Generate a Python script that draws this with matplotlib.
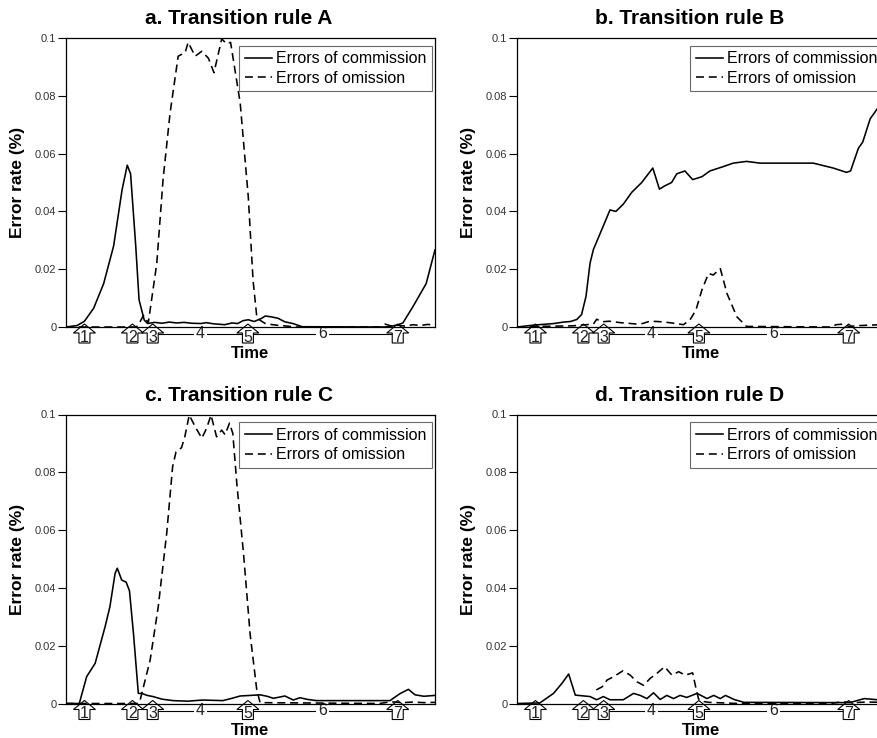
import matplotlib
matplotlib.use("Agg")
from matplotlib import pyplot as plt
from matplotlib.patches import Polygon
from matplotlib.transforms import Affine2D, ScaledTranslation, blended_transform_factory, offset_copy

plt.rcParams['font.family'] = ['Liberation Sans', 'DejaVu Sans']

# ---- data (time in arbitrary units 0..100) ----
titles = ["a. Transition rule A", "b. Transition rule B",
          "c. Transition rule C", "d. Transition rule D"]

a_com_t = [0, 3, 5, 7.5, 10.2, 12.9, 15.2, 16.6, 17.5, 18.9, 19.8, 21.2, 22.1, 24, 26, 28, 30, 32, 34,
           36.6, 38, 40, 42, 43, 45, 46.5, 48, 49.4, 51, 53, 54, 55.7, 57.5, 59.3, 61.5, 64, 86, 88, 90,
           91.3, 94, 97.6, 100]
a_com_y = [0, 0.0005, 0.002, 0.0065, 0.015, 0.028, 0.0475, 0.056, 0.053, 0.028, 0.0094, 0.0024, 0.0012,
           0.0016, 0.0013, 0.0017, 0.0014, 0.0016, 0.0013, 0.0012, 0.0015, 0.0011, 0.0009, 0.0008, 0.0014,
           0.0012, 0.0022, 0.0025, 0.0019, 0.003, 0.0038, 0.0035, 0.003, 0.0018, 0.0012, 0.0001, 0, 0.0002,
           0.0008, 0.0014, 0.007, 0.015, 0.0267]
a_om_t = [0, 19, 19.5, 21, 22.3, 24.6, 26.3, 28.2, 30.4, 32.3, 33.1, 35, 36.8, 38.6, 40.1, 42.2, 43.5, 44.6,
          47.2, 49.4, 50.7, 51.7, 52.5, 54, 56, 58, 60, 62, 85, 86.5, 88, 90, 92, 94, 96, 98, 100]
a_om_y = [0, 0, 0.0005, 0.004, 0.0014, 0.022, 0.051, 0.074, 0.0937, 0.095, 0.0985, 0.0937, 0.0954, 0.093,
          0.088, 0.0997, 0.098, 0.0985, 0.0776, 0.045, 0.016, 0.0036, 0.0024, 0.0012, 0.0008, 0.0005, 0.0003,
          0, 0, 0.001, 0.0004, 0.0006, 0.0003, 0.0008, 0.0005, 0.0009, 0.0006]

b_com_t = [0, 4.9, 8, 10, 12.6, 14.5, 16.2, 17.5, 18.7, 19.8, 20.7, 23.4, 25.2, 26.8, 28.8, 31.1, 33.8,
           36.8, 38.6, 40, 41.9, 43.3, 45.5, 47.6, 50.1, 52.3, 55.9, 58.6, 62.2, 65.9, 80.3, 85.7, 89.3,
           90.4, 92.5, 93.7, 95.7, 97.9, 100]
b_com_y = [0, 0.0007, 0.001, 0.0012, 0.0017, 0.0019, 0.0026, 0.0043, 0.0106, 0.0221, 0.0268, 0.035,
           0.0405, 0.040, 0.0425, 0.0466, 0.050, 0.055, 0.0477, 0.0488, 0.050, 0.053, 0.054, 0.051, 0.052,
           0.054, 0.0555, 0.0567, 0.0573, 0.0567, 0.0567, 0.055, 0.0535, 0.054, 0.0618, 0.064, 0.072,
           0.076, 0.079]
b_om_t = [0, 5, 10, 15, 20.7, 21.6, 23, 25, 28, 30, 32.5, 34, 36, 38, 40.1, 42.5, 45.1, 46.9, 48.5, 50.1,
          51.9, 53.2, 55.1, 56.9, 59.6, 62.2, 85, 86.5, 88.5, 90, 93, 96.7, 100]
b_om_y = [0, 0.0002, 0.0003, 0.0004, 0.001, 0.0027, 0.0018, 0.002, 0.0015, 0.0013, 0.001, 0.0012, 0.002,
          0.0019, 0.0017, 0.0013, 0.0008, 0.0025, 0.0059, 0.0128, 0.0185, 0.018, 0.0202, 0.0116, 0.0035,
          0.0002, 0, 0.0008, 0.001, 0.0002, 0.0005, 0.0007, 0.0009]

c_com_t = [0, 3.6, 5.6, 7.9, 10.6, 11.9, 13.3, 13.9, 15.1, 16.3, 17.2, 18.3, 19.6, 20.5, 22, 23.6, 26, 29,
           33, 37, 42.5, 45, 47.2, 50, 52.6, 54.5, 56.2, 57.8, 59.3, 61.6, 63.4, 65.5, 67.9, 87.8, 90.5,
           92.8, 94.6, 97, 100]
c_com_y = [0, 0, 0.0093, 0.0139, 0.0266, 0.0335, 0.045, 0.0468, 0.0427, 0.042, 0.039, 0.024, 0.0035,
           0.0035, 0.0028, 0.0024, 0.0015, 0.001, 0.0008, 0.0012, 0.001, 0.0018, 0.0026, 0.0028, 0.003,
           0.0025, 0.0018, 0.0022, 0.0026, 0.0012, 0.002, 0.0014, 0.001, 0.001, 0.0034, 0.0049, 0.003,
           0.0025, 0.0028]
c_om_t = [0, 19.5, 20, 22.8, 25, 27.3, 28.9, 29.8, 31.3, 32.2, 33.4, 35, 36.8, 38.1, 39.3, 40.8, 42.2,
          43.1, 44.3, 45.2, 46.3, 48.1, 49.9, 51.7, 52.6, 85, 88, 91, 94, 97, 100]
c_om_y = [0, 0, 0.0007, 0.015, 0.0335, 0.059, 0.082, 0.087, 0.0885, 0.0923, 0.0998, 0.0958, 0.0918,
          0.0952, 0.0998, 0.0923, 0.0946, 0.093, 0.097, 0.0935, 0.076, 0.052, 0.024, 0.0047, 0.0003, 0,
          0.0006, 0.0003, 0.0005, 0.0003, 0.0004]

d_com_t = [0, 6.2, 9.9, 12.2, 14, 15.8, 19.8, 21.6, 23.4, 25.2, 28.8, 31.6, 33.4, 35.2, 37, 38.8, 40.6,
           42.4, 44.2, 46, 48.8, 51.5, 53.3, 55.1, 56.5, 58.8, 61.5, 90.2, 94.1, 97.7, 100]
d_com_y = [0, 0.0002, 0.0035, 0.007, 0.0102, 0.0029, 0.0024, 0.0013, 0.0024, 0.0013, 0.0013, 0.0035,
           0.0028, 0.0017, 0.0037, 0.0014, 0.0028, 0.0017, 0.0028, 0.0021, 0.0035, 0.0017, 0.0028, 0.0017,
           0.0028, 0.0014, 0.0004, 0.0003, 0.0017, 0.0013, 0.0015]
d_om_t = [21.5, 23.1, 24.4, 26.2, 28.7, 30.7, 32.5, 34.3, 36.1, 37.9, 40, 42, 43.8, 45.6, 47.6, 48.6,
          49.2, 50, 52, 60, 85, 88, 91, 95, 100]
d_om_y = [0.0047, 0.0058, 0.0081, 0.0093, 0.0113, 0.0098, 0.0075, 0.0063, 0.0087, 0.0104, 0.0127, 0.0098,
          0.011, 0.0098, 0.0106, 0.0047, 0.0016, 0.0008, 0.0004, 0, 0, 0.0006, 0.0003, 0.0005, 0.0004]

series = [(a_com_t, a_com_y, a_om_t, a_om_y), (b_com_t, b_com_y, b_om_t, b_om_y),
          (c_com_t, c_com_y, c_om_t, c_om_y), (d_com_t, d_com_y, d_om_t, d_om_y)]

arrow_times = [5, 18, 23.5, 49.3, 89.9]
arrow_labels = ['1', '2', '3', '5', '7']
phase_times = [36.4, 69.6]
phase_labels = ['4', '6']
yticks = [0, 0.02, 0.04, 0.06, 0.08, 0.1]
ytick_labels = ['0', '0.02', '0.04', '0.06', '0.08', '0.1']

fig = plt.figure(figsize=(8.78, 7.38), dpi=100)
W, H = 878.0, 738.0
# axes boxes in pixels: left, axis bottom, width, height
boxes = [(66, 327, 369, 289), (517, 327, 369, 289),
         (66, 703.5, 369, 289), (517, 703.5, 369, 289)]

# arrow outline in pixels, tip on top, relative to the axis line
arrow_shape = [(0, 3), (11, -6), (5.5, -6), (5.5, -16), (-5.5, -16), (-5.5, -6), (-11, -6)]

for i, (l, b, w, h) in enumerate(boxes):
    ax = fig.add_axes([l / W, (H - b) / H, w / W, h / H])
    ct, cy, ot, oy = series[i]
    ax.plot(ct, cy, color='black', lw=1.15, label='Errors of commission')
    ax.plot(ot, oy, color='black', lw=1.15, ls=(0, (5, 3)), label='Errors of omission')
    ax.set_xlim(0, 100)
    ax.set_ylim(0, 0.1)
    ax.set_xticks([])
    ax.set_yticks(yticks)
    ax.set_yticklabels(ytick_labels)
    ax.tick_params(axis='y', length=5.5, width=0.8, labelsize=8, labelcolor='#333333', pad=1.5)
    for s in ax.spines.values():
        s.set_linewidth(0.9)
    ax.set_title(titles[i], fontsize=15, fontweight='bold', pad=10, x=0.469)
    ax.set_ylabel('Error rate (%)', fontsize=12.5, fontweight='bold')
    ax.yaxis.set_label_coords(-0.111, 0.5)
    ax.set_xlabel('Time', fontsize=12, fontweight='bold', va='top')
    ax.xaxis.set_label_coords(0.5, -0.066)
    leg = ax.legend(loc='upper right', bbox_to_anchor=(0.992, 0.974), borderaxespad=0,
                    fontsize=11.5, frameon=True, fancybox=False, borderpad=0.35,
                    labelspacing=0.3, handlelength=1.7, handletextpad=0.25)
    leg.get_frame().set_edgecolor('#444444')
    leg.get_frame().set_linewidth(0.8)

    bt = blended_transform_factory(ax.transData, ax.transAxes)
    # phase lines between arrows 3-5 and 5-7
    line_tr = offset_copy(bt, fig=fig, y=-7 * 0.72, units='points')
    ax.plot([arrow_times[2], arrow_times[4]], [0, 0], color='black', lw=0.8,
            transform=line_tr, clip_on=False, zorder=1)
    for t, lab in zip(phase_times, phase_labels):
        ax.text(t, 0, lab, transform=line_tr, ha='center', va='center', fontsize=11.5,
                color='#222222', clip_on=False, zorder=1.2,
                bbox=dict(facecolor='white', edgecolor='none', pad=1.5))
    # numbered arrows
    num_tr = offset_copy(bt, fig=fig, y=-10 * 0.72, units='points')
    for t, lab in zip(arrow_times, arrow_labels):
        tr = Affine2D().scale(1 / fig.dpi) + fig.dpi_scale_trans + ScaledTranslation(t, 0, bt)
        ax.add_patch(Polygon(arrow_shape, closed=True, facecolor='white', edgecolor='black',
                             lw=0.8, transform=tr, clip_on=False, zorder=1.5))
        ax.text(t, 0, lab, transform=num_tr, ha='center', va='center', fontsize=11.5,
                color='#222222', clip_on=False, zorder=1.6)

fig.savefig('out.png', dpi=100)
